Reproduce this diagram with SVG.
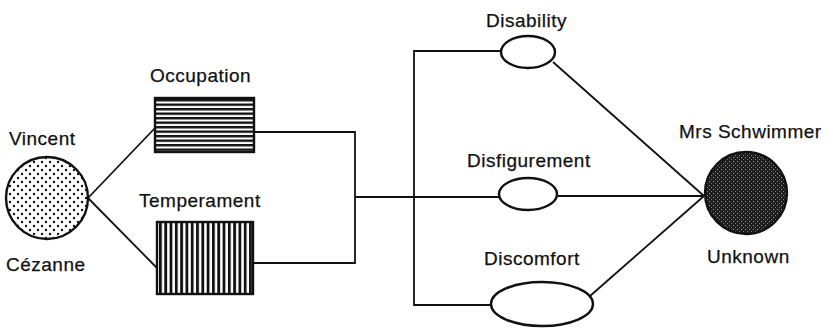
<svg xmlns="http://www.w3.org/2000/svg" width="833" height="336" viewBox="0 0 833 336">
<style>
text{font-family:"Liberation Sans",Arial,sans-serif;font-size:19px;letter-spacing:0.5px;fill:#111;stroke:#111;stroke-width:0.25}
.ln{fill:none;stroke:#111;stroke-width:1.8}
.sh{stroke:#111;stroke-width:2.4}
</style>
<defs>
<pattern id="dots" width="8" height="8" patternUnits="userSpaceOnUse">
<rect width="8" height="8" fill="#fff"/>
<circle cx="2" cy="2" r="1.2" fill="#111"/>
<circle cx="6" cy="6" r="1.2" fill="#111"/>
</pattern>
<pattern id="hstripe" width="8" height="4.5" patternUnits="userSpaceOnUse">
<rect width="8" height="4.5" fill="#fff"/>
<rect width="8" height="2.4" fill="#111"/>
</pattern>
<pattern id="vstripe" width="5.3" height="8" patternUnits="userSpaceOnUse">
<rect width="5.3" height="8" fill="#fff"/>
<rect width="2.8" height="8" fill="#111"/>
</pattern>
<pattern id="dense" width="4" height="4" patternUnits="userSpaceOnUse">
<rect width="4" height="4" fill="#1f1f1f"/>
<rect x="1" y="1" width="1" height="1" fill="#999"/>
<rect x="3" y="3" width="1" height="1" fill="#777"/>
</pattern>
</defs>
<g id="connectors" class="ln">
<line x1="88" y1="198" x2="155" y2="128"/>
<line x1="88" y1="198" x2="157" y2="268"/>
<polyline points="254,132 355,132 355,263 254,263"/>
<line x1="355" y1="197" x2="499" y2="197"/>
<polyline points="501,51 414,51 414,305 491,305"/>
<line x1="553" y1="62" x2="704" y2="196"/>
<line x1="558" y1="196" x2="704" y2="196"/>
<line x1="590" y1="296" x2="704" y2="196"/>
</g>
<g id="vincent">
<circle cx="47" cy="198" r="41" fill="url(#dots)" class="sh"/>
<text x="9" y="145">Vincent</text>
<text x="6" y="271">Cézanne</text>
</g>
<g id="occupation">
<rect x="155" y="98" width="99" height="54" fill="url(#hstripe)" class="sh"/>
<text x="150" y="82">Occupation</text>
</g>
<g id="temperament">
<rect x="157" y="222" width="96" height="72" fill="url(#vstripe)" class="sh"/>
<text x="139" y="207">Temperament</text>
</g>
<g id="disability">
<ellipse cx="528" cy="52" rx="27" ry="16" fill="#fff" class="sh"/>
<text x="486" y="27">Disability</text>
</g>
<g id="disfigurement">
<ellipse cx="528" cy="194" rx="29" ry="16" fill="#fff" class="sh"/>
<text x="467" y="167">Disfigurement</text>
</g>
<g id="discomfort">
<ellipse cx="542" cy="304" rx="51" ry="22" fill="#fff" class="sh"/>
<text x="484" y="265">Discomfort</text>
</g>
<g id="schwimmer">
<circle cx="746" cy="193" r="41" fill="url(#dense)" class="sh"/>
<text x="679" y="138">Mrs Schwimmer</text>
<text x="707" y="263">Unknown</text>
</g>
</svg>
